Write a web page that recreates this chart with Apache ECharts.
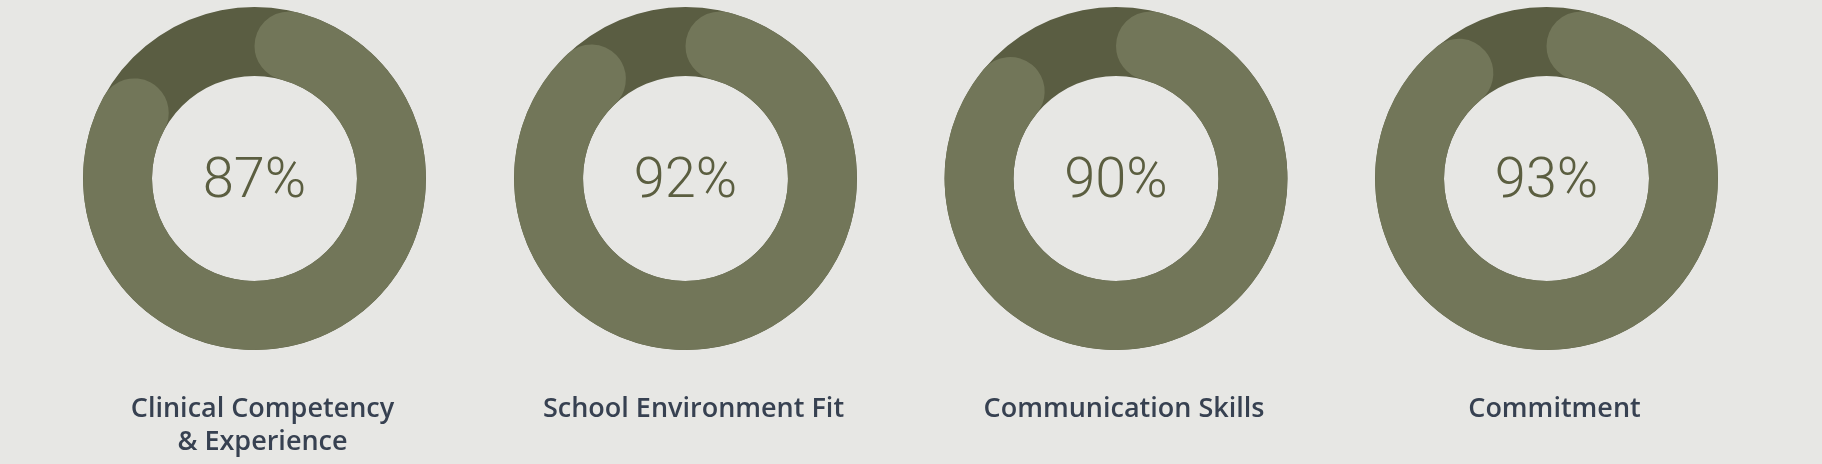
<!DOCTYPE html>
<html>
<head>
<meta charset="utf-8">
<script src="https://cdn.jsdelivr.net/npm/echarts@6/dist/echarts.min.js"></script>
<style>
html,body{margin:0;padding:0;background:#e7e7e4;}
#chart{width:1822px;height:464px;}
</style>
</head>
<body>
<div id="chart"></div>
<script>
const categories = ['Clinical Competency\n& Experience', 'School Environment Fit', 'Communication Skills', 'Commitment'];
const values = [87, 92, 90, 93];
const valueSuffix = '%';

const centersX = [254.5, 685.5, 1116, 1546.5];
const centerY = 178.5;
const rInner = 102.5, rOuter = 171.5;
const trackColor = '#5a5d42';
const fillColor = '#727659';
const pctColor = '#5b5e40';
const labelColor = '#374151';

const chart = echarts.init(document.getElementById('chart'), null, {renderer: 'canvas'});
const series = [];
const graphics = [];
categories.forEach((cat, i) => {
  const cx = centersX[i];
  series.push({
    type: 'pie', silent: true, animation: false,
    center: [cx, centerY], radius: [rInner, rOuter],
    label: {show: false}, labelLine: {show: false},
    emphasis: {disabled: true},
    data: [{value: 1, name: cat + ' track', itemStyle: {color: trackColor}}]
  });
  series.push({
    type: 'pie', silent: true, animation: false,
    center: [cx, centerY], radius: [rInner, rOuter],
    startAngle: 90, clockwise: true,
    avoidLabelOverlap: false,
    labelLine: {show: false},
    emphasis: {disabled: true},
    data: [
      {value: values[i], name: cat,
       itemStyle: {color: fillColor, borderRadius: (rOuter - rInner) / 2},
       label: {show: true, position: 'center', formatter: '{v|{c}' + valueSuffix + '}',
               rich: {v: {color: pctColor, fontFamily: 'Roboto', fontSize: 56, fontWeight: 300,
                          padding: [8, 0, 0, 0]}}}},
      {value: 100 - values[i], name: cat + ' rest',
       itemStyle: {color: 'rgba(0,0,0,0)'}, label: {show: false}}
    ]
  });
  graphics.push({
    type: 'text', x: cx + 8, y: 393, silent: true,
    style: {text: cat, fill: labelColor, font: '600 27px "Open Sans"',
            align: 'center', verticalAlign: 'top', lineHeight: 33}
  });
});

chart.setOption({
  backgroundColor: '#e7e7e4',
  animation: false,
  series: series,
  graphic: graphics
});
</script>
</body>
</html>
